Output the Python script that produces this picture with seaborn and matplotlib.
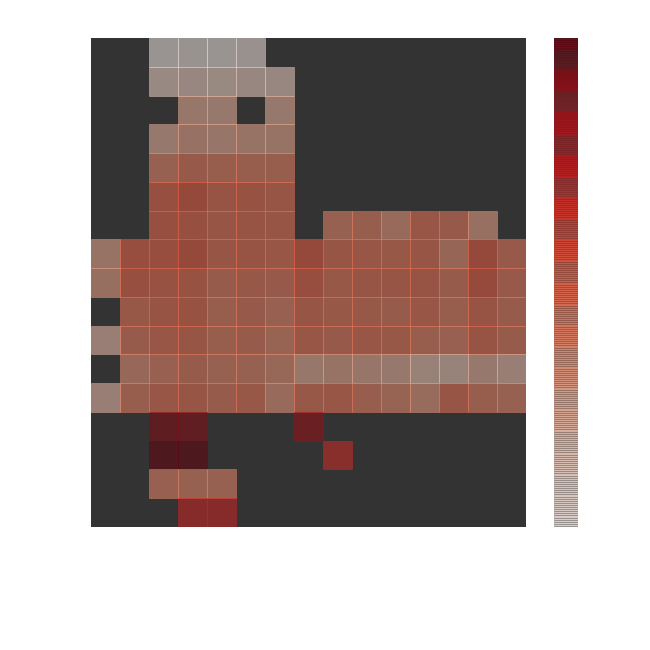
import numpy as np
import pandas as pd
import matplotlib
matplotlib.use("Agg")
import matplotlib.pyplot as plt
import seaborn as sns

n = np.nan

row_00 = [n, n, .00, .01, .00, .03, n, n, n, n, n, n, n, n, n]
row_01 = [n, n, .12, .14, .13, .14, .14, n, n, n, n, n, n, n, n]
row_02 = [n, n, n, .25, .24, n, .24, n, n, n, n, n, n, n, n]
row_03 = [n, n, .24, .28, .26, .27, .27, n, n, n, n, n, n, n, n]
row_04 = [n, n, .38, .43, .40, .41, .41, n, n, n, n, n, n, n, n]
row_05 = [n, n, .49, .53, .47, .48, .46, n, n, n, n, n, n, n, n]
row_06 = [n, n, .49, .49, .46, .47, .46, n, .38, .41, .33, .45, .43, .29, n]
row_07 = [.27, .50, .50, .53, .46, .47, .45, .53, .46, .45, .44, .46, .36, .53, .43]
row_08 = [.30, .49, .48, .48, .42, .44, .43, .50, .44, .46, .46, .47, .42, .52, .43]
row_09 = [n, .44, .47, .48, .41, .43, .39, .46, .44, .44, .42, .45, .40, .47, .42]
row_10 = [.20, .42, .45, .46, .41, .42, .37, .45, .43, .45, .44, .41, .39, .47, .42]
row_11 = [n, .34, .39, .42, .38, .38, .35, .25, .27, .26, .24, .18, .17, .24, .20]
row_12 = [.20, .40, .45, .46, .42, .44, .33, .44, .45, .41, .37, .32, .46, .41, .38]
row_13 = [n, n, .93, .92, n, n, n, .88, n, n, n, n, n, n, n]
row_14 = [n, n, 1.0, 1.0, n, n, n, n, .68, n, n, n, n, n, n]
row_15 = [n, n, .39, .38, .38, n, n, n, n, n, n, n, n, n, n]
row_16 = [n, n, n, .70, .70, n, n, n, n, n, n, n, n, n, n]

rows = [row_00, row_01, row_02, row_03, row_04, row_05, row_06, row_07, row_08,
        row_09, row_10, row_11, row_12, row_13, row_14, row_15, row_16]

sns.set_style("white", {"axes.facecolor": "#333333"})

df = pd.DataFrame(rows)

fig = plt.figure(figsize=(6.5, 6.5), dpi=100)
ax = fig.add_axes([91 / 650, 1 - 527 / 650, 435 / 650, 489 / 650])
cax = fig.add_axes([554 / 650, 1 - 527 / 650, 24 / 650, 489 / 650])

sns.heatmap(df, cmap="Reds", alpha=0.5, ax=ax, cbar_ax=cax,
            linewidths=0.5, linecolor="face", antialiased=True,
            xticklabels=False, yticklabels=False,
            cbar_kws={"ticks": []})

# seams between the translucent cells, same on the colorbar
solids = ax.collections[0].colorbar.solids
solids.set_edgecolor("face")
solids.set_linewidth(0.6)
solids._antialiased = True

plt.savefig("out.png", dpi=100)
plt.close()
